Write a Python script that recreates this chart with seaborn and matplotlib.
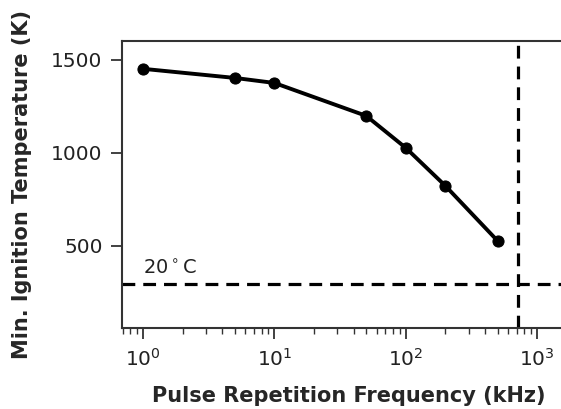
import matplotlib
matplotlib.use("Agg")
import matplotlib.pyplot as plt
import seaborn as sns
import pandas as pd

freq_khz = [1, 5, 10, 50, 100, 200, 500]
min_ign_temp_k = [1452, 1403, 1376, 1199, 1027, 823, 527]
room_temp_k = 293.15
cutoff_khz = 720
room_label = "20$^\\circ$C"

df = pd.DataFrame({"f": freq_khz, "T": min_ign_temp_k})

sns.set_style("ticks")
plt.rcParams['font.family'] = ['DejaVu Sans']

fig = plt.figure(figsize=(5.61, 4.09), dpi=100)
ax = fig.add_axes([0.2175, 0.198, 0.807, 0.702])

sns.lineplot(data=df, x="f", y="T", ax=ax, color="black", linewidth=2.8,
             marker="o", markersize=8, markeredgecolor="black")
ax.set_xscale("log")
ax.axhline(room_temp_k, color="black", linestyle=(0, (4, 2.5)), linewidth=2.3)
ax.axvline(cutoff_khz, color="black", linestyle=(0, (4, 2.5)), linewidth=2.3)
ax.text(1.0, room_temp_k + 30, room_label, fontsize=14, color="#222222",
        ha="left", va="bottom")

ax.set_xlim(0.692, 1930)
ax.set_ylim(59, 1602)
ax.set_yticks([500, 1000, 1500])
ax.set_xlabel("Pulse Repetition Frequency (kHz)", fontsize=15, fontweight="bold",
              labelpad=12)
ax.set_ylabel("Min. Ignition Temperature (K)", fontsize=15, fontweight="bold",
              labelpad=14)
ax.tick_params(axis="both", which="major", labelsize=14.5, length=8, width=1.3,
               pad=6, color="#333333", labelcolor="#222222")
ax.tick_params(axis="x", which="minor", length=4.5, width=1.0, color="#333333")
for s in ax.spines.values():
    s.set_color("#333333")
    s.set_linewidth(1.5)

fig.savefig("out.png", dpi=100)
